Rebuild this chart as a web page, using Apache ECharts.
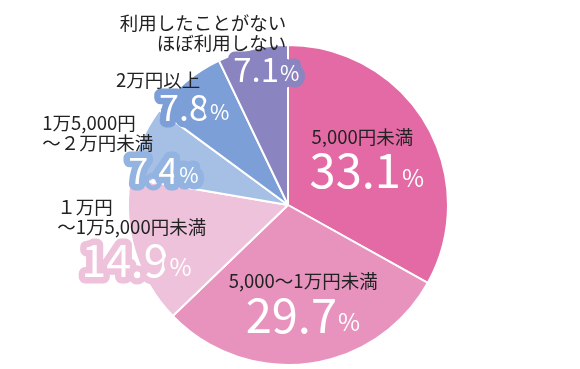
<!DOCTYPE html>
<html><head><meta charset="utf-8">
<script src="https://cdn.jsdelivr.net/npm/echarts@6/dist/echarts.min.js"></script>
<style>html,body{margin:0;padding:0;background:#fff}#c{width:580px;height:369px}</style>
</head><body><div id="c"></div>
<script>
// rounded outline joins for the value labels' halo
(function () {
  const proto = CanvasRenderingContext2D.prototype;
  const orig = proto.strokeText;
  proto.strokeText = function () {
    const lj = this.lineJoin;
    this.lineJoin = 'round';
    orig.apply(this, arguments);
    this.lineJoin = lj;
  };
})();

// ---- data ----
const categories = ['5,000円未満', '5,000～1万円未満', '１万円\n～1万5,000円未満', '1万5,000円\n～２万円未満', '2万円以上', '利用したことがない\nほぼ利用しない'];
const values = [33.1, 29.7, 14.9, 7.4, 7.8, 7.1];

// ---- styles ----
const sliceColors = ['#E46AA5', '#E892BE', '#EEC2DB', '#A6C0E5', '#7C9FD7', '#8A85C1'];
const outlineColors = ['#E46AA5', '#E892BE', '#EEC2DB', '#93B3E1', '#7C9FD7', '#8A85C1'];
const valueFontSizes = [47, 47, 45, 36, 36, 33];
const pctFontSizes = [24, 24, 24, 21, 21, 21];
const labelAlign = ['left', 'left', 'left', 'left', 'left', 'right'];
const labelDx = [-50, -70, -151.5, -169.4, -119, 29.7];
const labelDy = [-36.5, -16, -32, -60, -71.4, -111];
const valuePad = [0, 17, 24, 86, 43, 0];
const catPad = [2, 0, 0, 0, 0, 13];

const FONT = '"Noto Sans CJK JP", "Noto Sans", sans-serif';

const data = values.map((v, i) => {
  const vs = valueFontSizes[i];
  const ps = pctFontSizes[i];
  const al = labelAlign[i];
  return {
    name: categories[i],
    value: v,
    itemStyle: { color: sliceColors[i] },
    label: {
      formatter: (p) => {
        const lines = p.name.split('\n').map(s => '{c|' + s + '}');
        return lines.join('\n') + '\n{v|' + p.value.toFixed(1) + '}{p|%}';
      },
      rich: {
        c: { fontFamily: FONT, fontSize: 18.5, lineHeight: 20, color: '#222', align: al,
             padding: al === 'left' ? [0, 0, 0, catPad[i]] : [0, catPad[i], 0, 0] },
        v: { fontFamily: FONT, fontSize: vs, lineHeight: vs, color: '#fff', align: al,
             textBorderColor: outlineColors[i], textBorderWidth: 13,
             padding: [0, 0, 0, valuePad[i]], verticalAlign: 'bottom' },
        p: { fontFamily: FONT, fontSize: ps, lineHeight: ps, color: '#fff', align: al,
             textBorderColor: outlineColors[i], textBorderWidth: 13,
             padding: [0, 0, Math.round(vs * 0.08), 1], verticalAlign: 'bottom' }
      }
    }
  };
});

const chart = echarts.init(document.getElementById('c'), null, { renderer: 'canvas' });
chart.setOption({
  animation: false,
  backgroundColor: '#fff',
  series: [{
    type: 'pie',
    center: [288, 205],
    radius: 160,
    startAngle: 90,
    clockwise: true,
    avoidLabelOverlap: false,
    itemStyle: { borderColor: '#fff', borderWidth: 2 },
    label: { show: true, position: 'inside' },
    labelLine: { show: false },
    emphasis: { disabled: true },
    labelLayout: (p) => {
      const i = p.dataIndex;
      return { align: labelAlign[i], verticalAlign: 'top', dx: labelDx[i], dy: labelDy[i] };
    },
    data: data
  }]
});
</script>
</body></html>
